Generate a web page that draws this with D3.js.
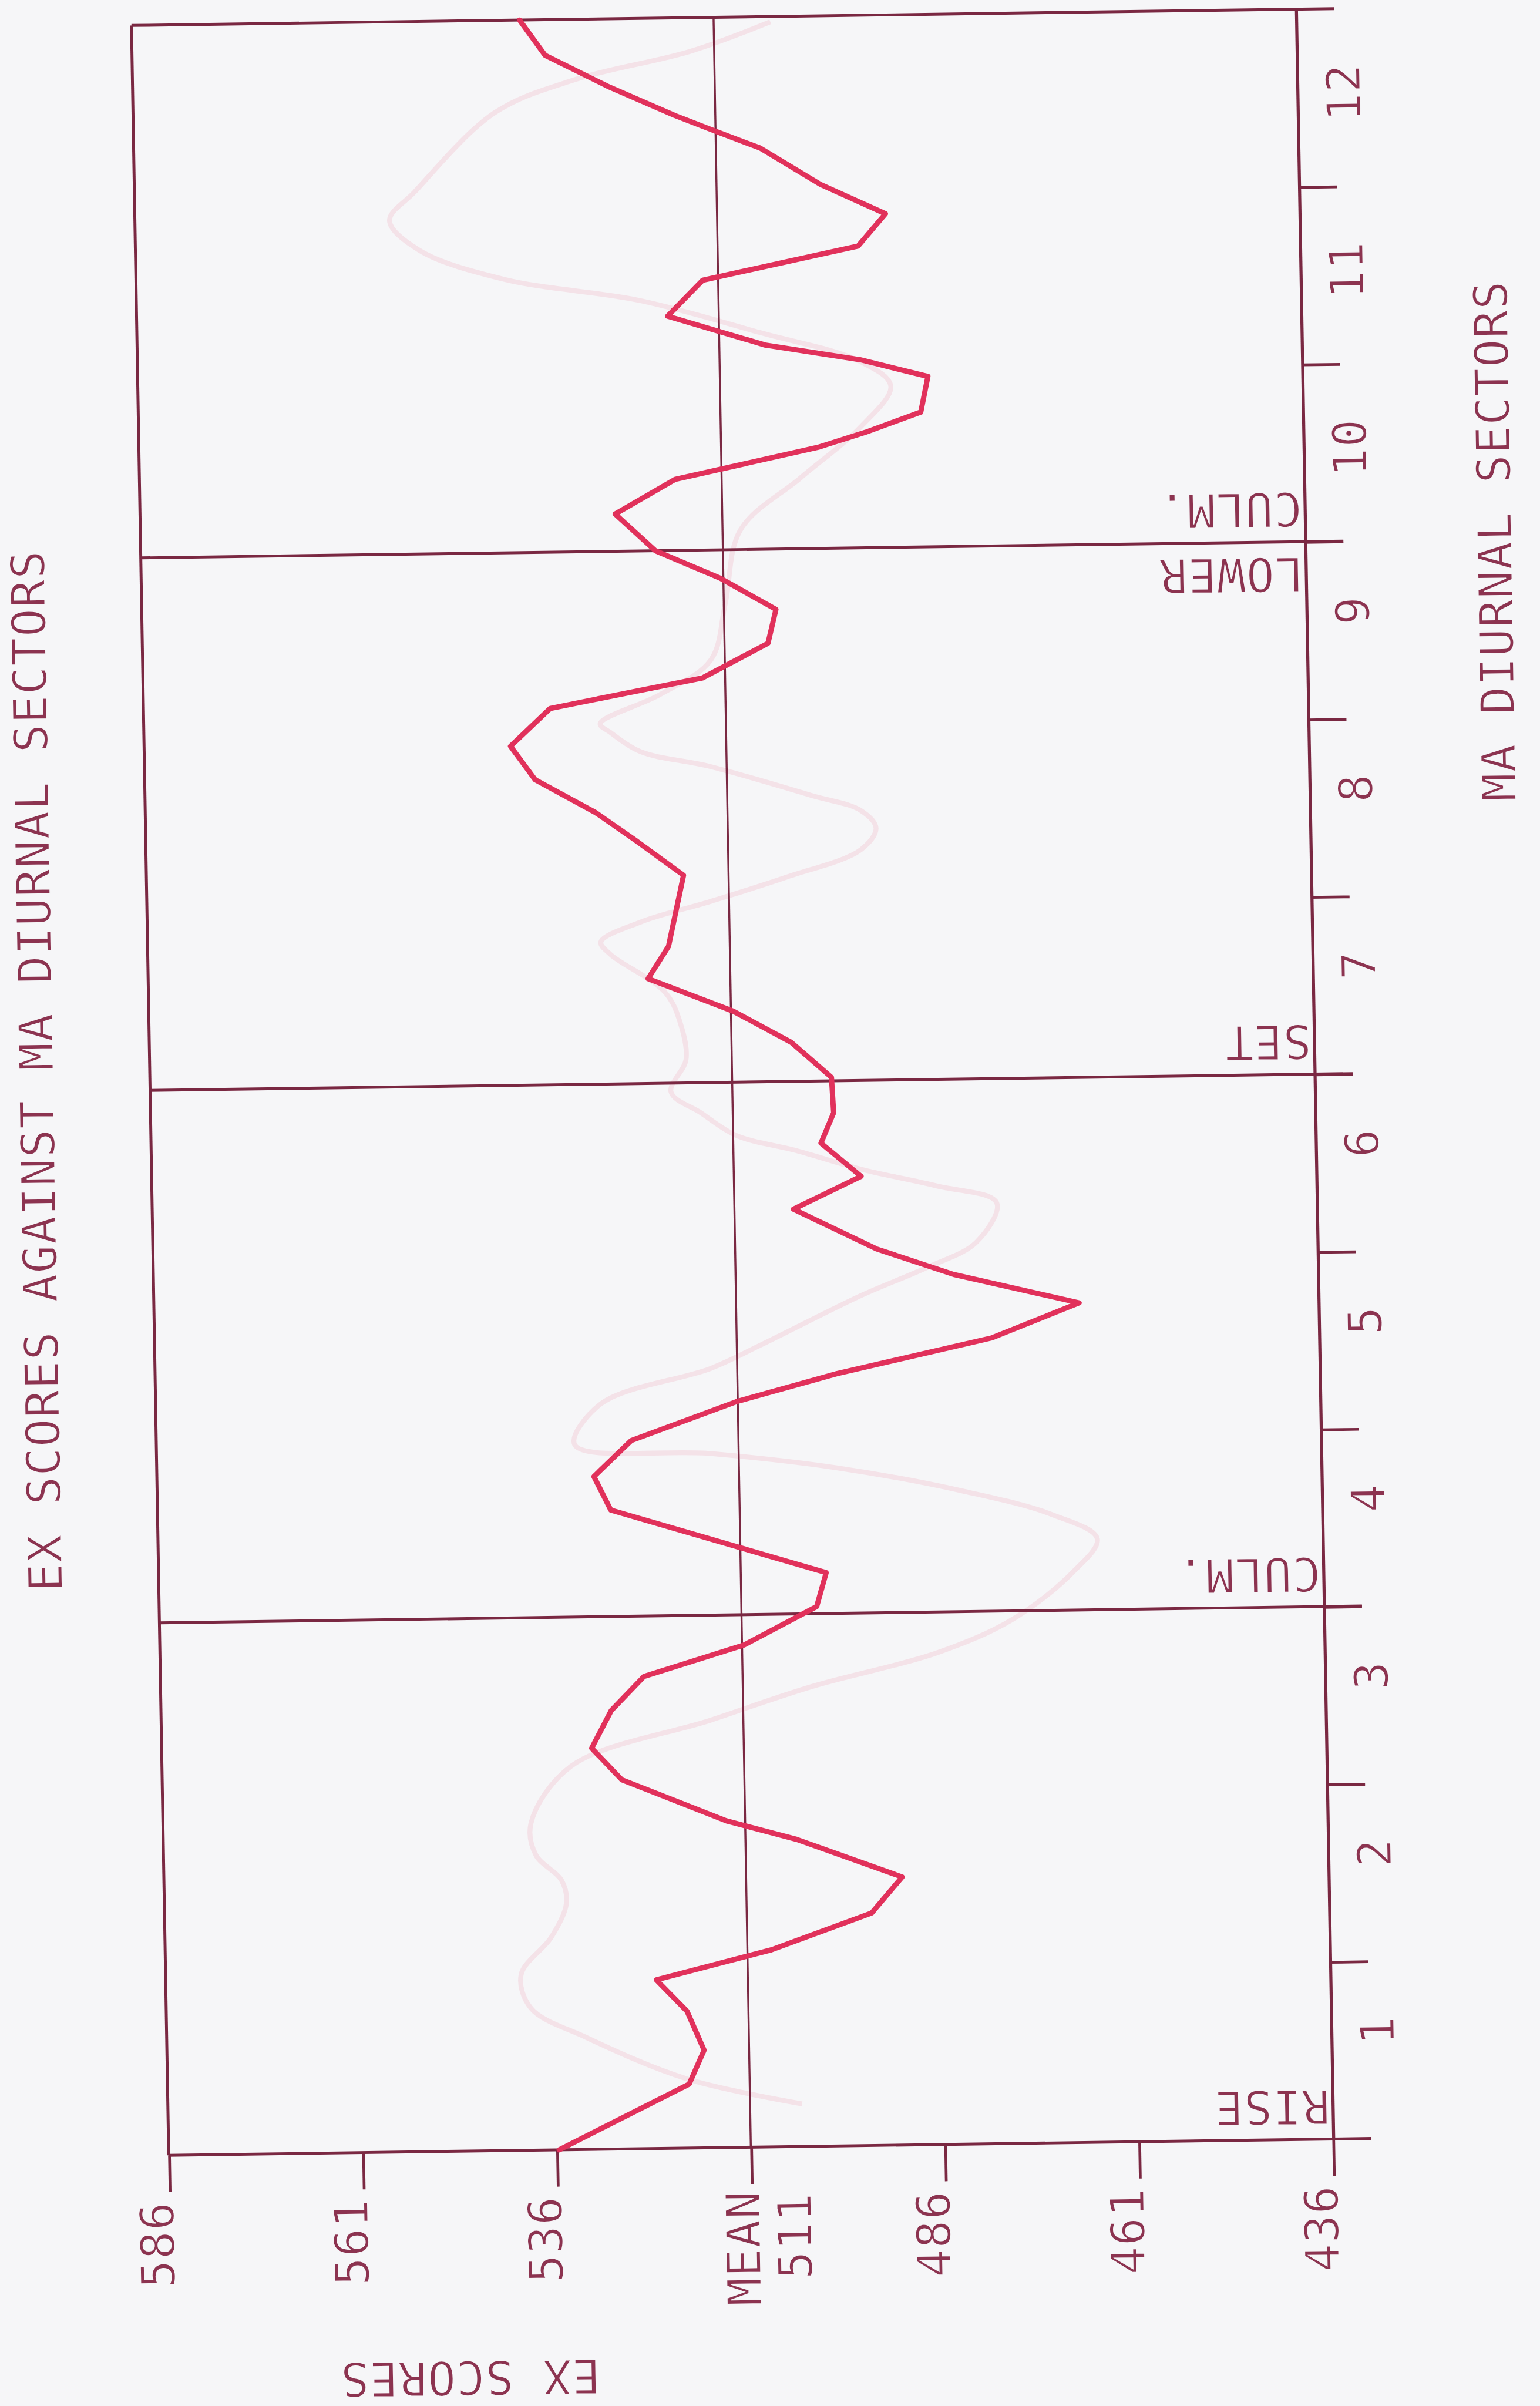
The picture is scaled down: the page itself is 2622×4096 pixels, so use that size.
<!DOCTYPE html>
<html>
<head>
<meta charset="utf-8">
<script src="https://cdn.jsdelivr.net/npm/d3@7"></script>
<style>
  html, body { margin: 0; padding: 0; background: #f6f6f8; }
  svg { display: block; }
</style>
</head>
<body>
<svg id="chart" width="2622" height="4096"></svg>
<script>
// tick values and labels
const scoreTicks = [586, 561, 536, 511, 486, 461, 436];
const sectorTicks = [1, 2, 3, 4, 5, 6, 7, 8, 9, 10, 11];
const sectorLabels = [1, 2, 3, 4, 5, 6, 7, 8, 9, 10, 11, 12];
const meanScore = 511;

// rise / culmination / set / lower culmination lines
const markerSectors = [0, 3, 6, 9];
const markerAbove = ['RISE', 'CULM.', 'SET', 'CULM.'];
const markerBelow = ['', '', '', 'LOWER'];

// plotted EX score curve
const mainSector = [0, 0.36, 0.55, 0.77, 0.95, 1.11, 1.31, 1.51, 1.73, 1.84, 2.08, 2.26, 2.47, 2.66, 2.83,
  3.04, 3.23, 3.60, 3.79, 3.99, 4.20, 4.35, 4.54, 4.73, 4.90, 5.05, 5.28, 5.46, 5.65, 5.82, 6.02, 6.22,
  6.40, 6.59, 6.77, 7.17, 7.37, 7.53, 7.72, 7.91, 8.12, 8.28, 8.47, 8.66, 8.84, 9.00, 9.21, 9.40, 9.57,
  9.65, 9.76, 9.96, 10.06, 10.15, 10.32, 10.52, 10.70, 10.88, 11.05, 11.26, 11.37, 11.45, 11.62, 11.80, 12.0];
const mainScore = [535.7, 518.8, 516.8, 518.9, 522.8, 507.9, 494.9, 490.9, 504.4, 513.4, 526.8, 530.6, 528.0,
  523.7, 510.7, 501.3, 500.0, 527.6, 529.7, 524.8, 511.2, 498.2, 478.1, 466.8, 482.9, 492.8, 503.4, 494.6,
  499.7, 498.0, 498.2, 503.3, 510.7, 521.6, 518.9, 516.8, 522.9, 528.0, 535.7, 538.8, 533.6, 513.9, 505.4,
  504.3, 511.4, 519.7, 524.8, 517.0, 498.5, 492.4, 485.2, 484.2, 492.9, 505.1, 517.6, 513.0, 492.9, 489.3,
  497.6, 505.3, 511.7, 516.2, 524.8, 532.8, 536.0];

// faint curve showing through from the back of the sheet
const ghostSector = [0.24, 0.39, 0.63, 0.80, 0.99, 1.20, 1.39, 1.52, 1.66, 1.84, 2.16, 2.41, 2.59, 2.77, 2.95,
  3.21, 3.40, 3.54, 3.68, 3.82, 3.91, 3.97, 4.20, 4.39, 4.52, 4.79, 4.94, 5.08, 5.30, 5.40, 5.50, 5.61,
  5.70, 5.83, 5.95, 6.13, 6.33, 6.51, 6.73, 6.80, 6.91, 7.02, 7.15, 7.30, 7.42, 7.52, 7.61, 7.78, 7.87,
  7.98, 8.03, 8.19, 8.38, 8.70, 9.11, 9.40, 9.68, 9.91, 10.05, 10.22, 10.41, 10.54, 10.71, 10.88, 11.04,
  11.48, 11.66, 11.81, 11.97];
const ghostScore = [504.3, 519.1, 531.9, 539.0, 540.2, 536.2, 534.2, 534.8, 538.0, 538.6, 533.3, 515.1, 502.1,
  485.9, 476.2, 468.3, 465.0, 470.8, 482.3, 498.4, 514.5, 532.1, 528.6, 514.4, 507.8, 494.8, 486.4, 479.9,
  477.2, 484.9, 494.6, 502.9, 510.6, 515.1, 518.9, 516.9, 517.5, 519.4, 526.4, 527.6, 522.4, 513.4, 503.6,
  493.9, 491.9, 493.8, 500.2, 513.1, 522.1, 525.9, 527.2, 519.4, 512.8, 510.8, 508.7, 500.8, 493.0, 489.0,
  492.9, 505.7, 521.1, 538.5, 549.4, 553.2, 549.9, 539.4, 529.0, 514.1, 503.7];

const bg = '#f6f6f8';
const ink = '#7a2842';
const textInk = '#8c3350';
const penRed = '#e1315b';
const font = 'DejaVu Sans Mono';
const fontSize = 30.5;

const svg = d3.select('#chart');
const k = 2622 / 1004;

svg.append('rect').attr('width', 2622).attr('height', 4096).attr('fill', bg);

// the sheet sits a little skewed on the scanner
const g = svg.append('g')
  .attr('transform', `scale(${k}) translate(110,1405) matrix(1,-0.014,0.0175,1,0,0) translate(-110,-1405)`);

// scores run right-to-left, sectors bottom-to-top (page is turned)
const x = d3.scaleLinear().domain([586, 436]).range([110, 869]);
const y = d3.scaleLinear().domain([0, 12]).range([1405, 16.6]);
const tick = 25;

function styleText(sel) {
  sel.attr('font-family', font)
    .attr('font-size', fontSize)
    .attr('letter-spacing', 0.5)
    .attr('fill', textInk)
    .attr('stroke', bg)
    .attr('stroke-width', 0.6);
}

// ghost curve first so it sits under everything
const ghostLine = d3.line()
  .x(d => x(d[1]))
  .y(d => y(d[0]))
  .curve(d3.curveCatmullRom);

g.append('path')
  .datum(d3.zip(ghostSector, ghostScore))
  .attr('d', ghostLine)
  .attr('fill', 'none')
  .attr('stroke', '#f4e2e8')
  .attr('stroke-width', 3.2)
  .attr('stroke-linejoin', 'round');

// frame
const frame = g.append('g').attr('stroke', ink).attr('stroke-width', 1.9).attr('fill', 'none');
frame.append('line')
  .attr('x1', x(586)).attr('x2', x(586))
  .attr('y1', y(0)).attr('y2', y(12));
frame.append('line')
  .attr('x1', x(586)).attr('x2', x(436) + tick)
  .attr('y1', y(12)).attr('y2', y(12));

frame.selectAll('.marker')
  .data(markerSectors)
  .join('line')
  .attr('class', 'marker')
  .attr('x1', x(586)).attr('x2', x(436) + tick)
  .attr('y1', d => y(d)).attr('y2', d => y(d));

frame.append('line')
  .attr('x1', x(meanScore)).attr('x2', x(meanScore))
  .attr('y1', y(0)).attr('y2', y(12))
  .attr('stroke-width', 1.3);

// score axis along the bottom
const xAxis = g.append('g')
  .attr('transform', `translate(0,${y(0)})`)
  .call(d3.axisBottom(x).tickValues(scoreTicks).tickSize(24).tickSizeOuter(0).tickFormat(d3.format('d')));
xAxis.select('.domain').remove();
xAxis.selectAll('.tick line').attr('stroke', ink).attr('stroke-width', 1.8);
xAxis.selectAll('.tick text')
  .attr('transform', 'rotate(-90)')
  .attr('x', -30)
  .attr('y', d => d === meanScore ? 38 : 2)
  .attr('dy', null)
  .attr('text-anchor', 'end')
  .call(styleText);
xAxis.selectAll('.tick')
  .filter(d => d === meanScore)
  .append('text')
  .attr('transform', 'rotate(-90)')
  .attr('x', -28)
  .attr('y', 4.5)
  .attr('text-anchor', 'end')
  .text('MEAN')
  .call(styleText);

// sector axis on the right
const yAxis = g.append('g')
  .attr('transform', `translate(${x(436)},0)`)
  .call(d3.axisRight(y).tickValues(sectorTicks).tickSize(tick).tickSizeOuter(0).tickFormat(''));
yAxis.select('.domain').attr('stroke', ink).attr('stroke-width', 2);
yAxis.selectAll('.tick line').attr('stroke', ink).attr('stroke-width', 1.8);

g.append('g')
  .selectAll('text')
  .data(sectorLabels)
  .join('text')
  .attr('transform', d => `translate(${x(436) + 41},${y(d - 0.31)}) rotate(-90)`)
  .attr('text-anchor', 'end')
  .text(d => d)
  .call(styleText);

// labels on the rise / culm / set lines
g.append('g')
  .selectAll('text')
  .data(markerSectors)
  .join('text')
  .attr('transform', d => `translate(${x(436) - 1.5},${y(d) - 32}) rotate(180)`)
  .attr('text-anchor', 'start')
  .text((d, i) => markerAbove[i])
  .call(styleText);

g.append('g')
  .selectAll('text')
  .data(markerSectors.filter((d, i) => markerBelow[i]))
  .join('text')
  .attr('transform', d => `translate(${x(436) - 1.5},${y(d) + 10.3}) rotate(180)`)
  .attr('text-anchor', 'start')
  .text(d => markerBelow[markerSectors.indexOf(d)])
  .call(styleText);

// titles
g.append('text')
  .attr('transform', 'translate(47,697) rotate(-90)')
  .attr('text-anchor', 'middle')
  .text('EX SCORES AGAINST MA DIURNAL SECTORS')
  .call(styleText);

g.append('text')
  .attr('transform', 'translate(1003.5,365) rotate(-90)')
  .attr('text-anchor', 'middle')
  .text('MA DIURNAL SECTORS')
  .call(styleText);

g.append('text')
  .attr('transform', 'translate(304,1542) rotate(180)')
  .attr('text-anchor', 'middle')
  .text('EX SCORES')
  .call(styleText);

// the plotted curve
const scoreLine = d3.line()
  .x(d => x(d[1]))
  .y(d => y(d[0]));

g.append('path')
  .datum(d3.zip(mainSector, mainScore))
  .attr('d', scoreLine)
  .attr('fill', 'none')
  .attr('stroke', penRed)
  .attr('stroke-width', 3.4)
  .attr('stroke-linejoin', 'round')
  .attr('stroke-linecap', 'round');
</script>
</body>
</html>
